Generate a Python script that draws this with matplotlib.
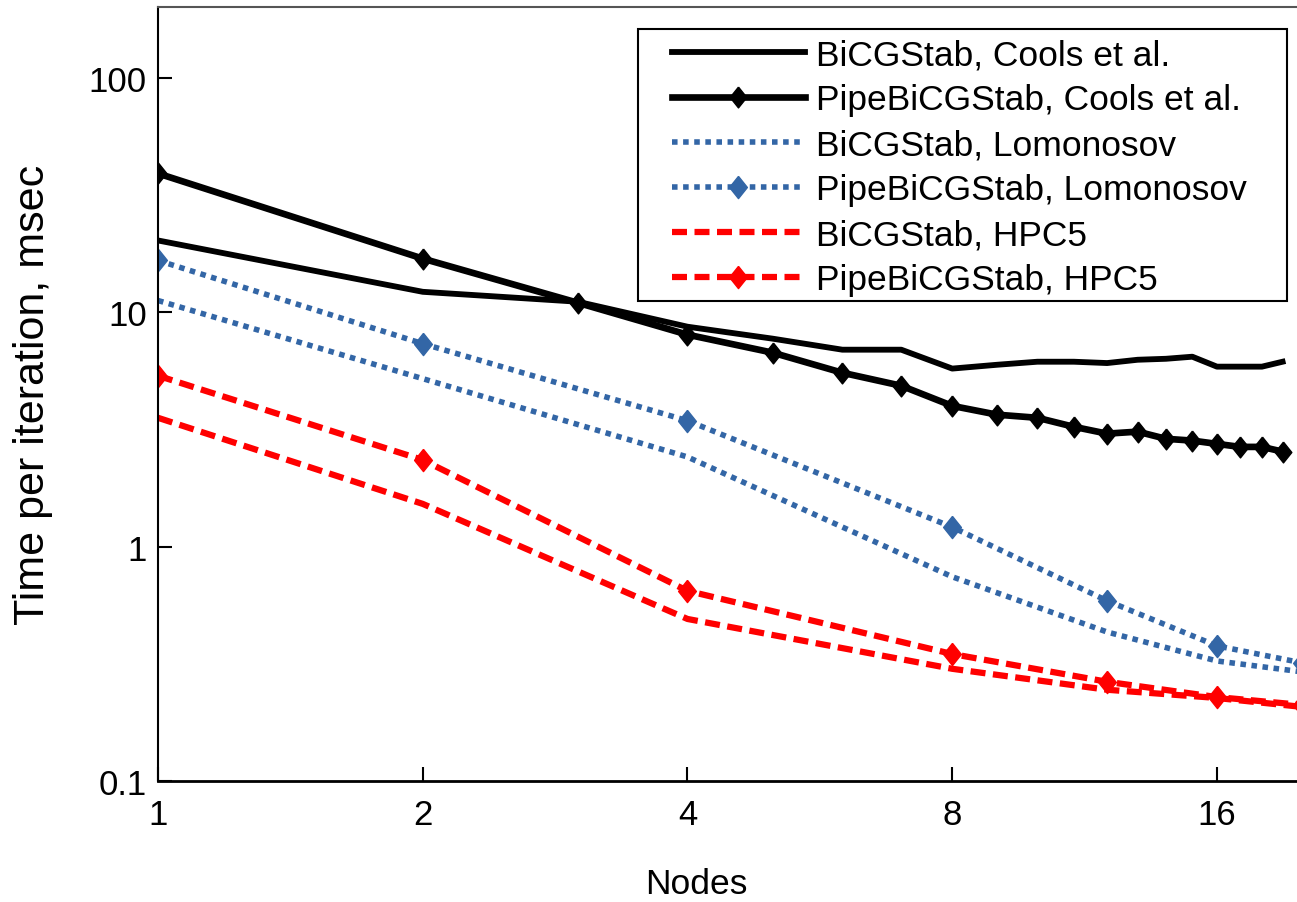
import matplotlib
matplotlib.use("Agg")
import matplotlib.pyplot as plt
from matplotlib.patches import Rectangle

# data (nodes vs. time per iteration, msec)
cools_nodes = list(range(1, 20))
bicg_cools = [20.2, 12.2, 11.07, 8.66, 7.7, 6.91, 6.91, 5.74, 5.96, 6.14,
              6.14, 6.06, 6.26, 6.32, 6.45, 5.85, 5.85, 5.85, 6.14]
pipe_cools = [39.0, 16.9, 10.96, 8.01, 6.71, 5.51, 4.85, 3.98, 3.65, 3.54,
              3.24, 3.03, 3.09, 2.88, 2.83, 2.74, 2.66, 2.66, 2.54]

our_nodes = [1, 2, 4, 8, 12, 16, 20]
bicg_lomo = [11.2, 5.20, 2.41, 0.743, 0.432, 0.325, 0.292]
pipe_lomo = [16.6, 7.33, 3.44, 1.21, 0.587, 0.377, 0.319]
bicg_hpc5 = [3.54, 1.52, 0.491, 0.301, 0.245, 0.226, 0.207]
pipe_hpc5 = [5.35, 2.34, 0.647, 0.348, 0.265, 0.228, 0.211]

x_ticks = [1, 2, 4, 8, 16]
x_tick_labels = ["1", "2", "4", "8", "16"]
y_ticks = [0.1, 1, 10, 100]
y_tick_labels = ["0.1", "1", "10", "100"]

plt.rcParams["font.family"] = ["Liberation Sans", "DejaVu Sans"]

W, H = 1297, 903
fig = plt.figure(figsize=(W / 100, H / 100), dpi=100)
ax = fig.add_axes([158 / W, 121 / H, 1139 / W, 774 / H])

blue = "#3366a6"
dots = (0, (1.0, 1.0))
dashes = (0, (2.4, 1.2))
diamond = [(0, 1), (0.8, 0), (0, -1), (-0.8, 0), (0, 1)]

ax.plot(cools_nodes, bicg_cools, color="black", lw=4.2, label="BiCGStab, Cools et al.")
ax.plot(cools_nodes, pipe_cools, color="black", lw=4.8, marker=diamond, ms=15,
        label="PipeBiCGStab, Cools et al.")
ax.plot(our_nodes, bicg_lomo, color=blue, lw=4.0, linestyle=dots,
        label="BiCGStab, Lomonosov")
ax.plot(our_nodes, pipe_lomo, color=blue, lw=4.0, linestyle=dots,
        marker=diamond, ms=16, label="PipeBiCGStab, Lomonosov")
ax.plot(our_nodes, bicg_hpc5, color="red", lw=4.5, linestyle=dashes,
        label="BiCGStab, HPC5")
ax.plot(our_nodes, pipe_hpc5, color="red", lw=4.5, linestyle=dashes,
        marker=diamond, ms=16, label="PipeBiCGStab, HPC5")

ax.set_xscale("log")
ax.set_yscale("log")
ax.set_xlim(1, 19.73)
ax.set_ylim(0.1, 200)
ax.set_xticks(x_ticks, x_tick_labels)
ax.set_yticks(y_ticks, y_tick_labels)
ax.minorticks_off()
ax.tick_params(direction="in", length=10, width=1.5, labelsize=25)
ax.tick_params(axis="x", pad=12)
ax.tick_params(axis="y", pad=8)

ax.spines["right"].set_visible(False)
ax.spines["top"].set_color("#555555")
ax.spines["top"].set_linewidth(1.5)
ax.spines["left"].set_linewidth(1.5)
ax.spines["bottom"].set_linewidth(2)

ax.set_xlabel("Nodes", fontsize=25.5, va="center")
ax.xaxis.set_label_coords(0.473, -0.133)
ax.set_ylabel("Time per iteration, msec", fontsize=31, va="center")
ax.yaxis.set_label_coords(-0.1097, 0.5)

leg = ax.legend(loc="upper left", bbox_to_anchor=(672 / W, 1 - 39 / H),
                bbox_transform=fig.transFigure, fontsize=25.5, handlelength=3.75,
                handletextpad=0.33, labelspacing=0.34, borderpad=0,
                borderaxespad=0, frameon=False)
leg.set_zorder(6)
# legend box has wider side padding than top/bottom, so draw it by hand
box = Rectangle((638 / W, 1 - 302 / H), 649 / W, 272 / H, transform=fig.transFigure,
                facecolor="white", edgecolor="black", lw=1.5, zorder=5, clip_on=False)
ax.add_patch(box)

fig.savefig("out.png", dpi=100)
